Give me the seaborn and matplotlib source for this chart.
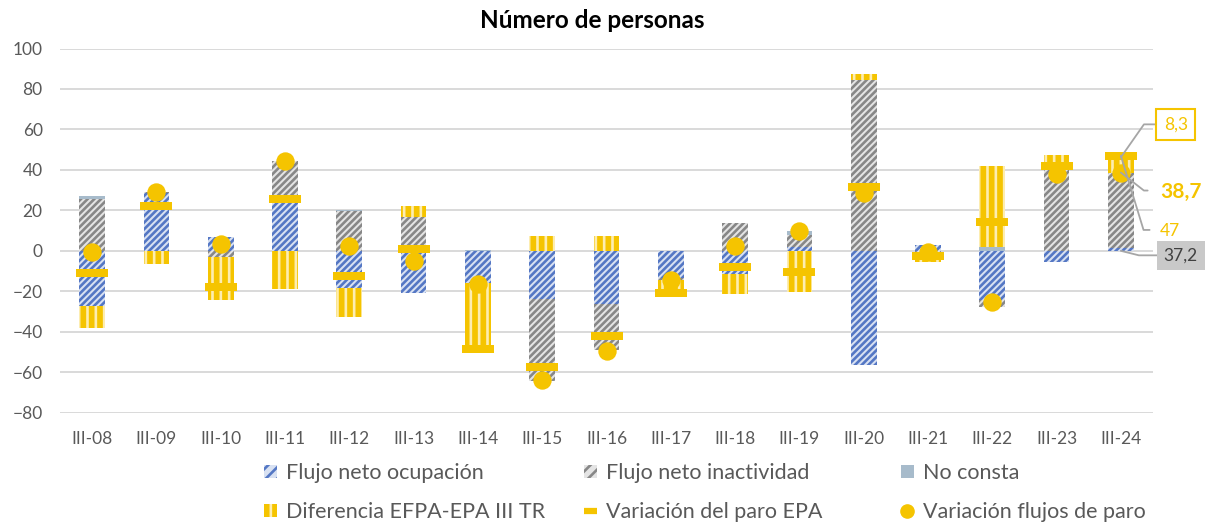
import numpy as np
import pandas as pd
import matplotlib
matplotlib.use("Agg")
import matplotlib.pyplot as plt
import seaborn as sns
from matplotlib.patches import Patch
from matplotlib.lines import Line2D

# ---------------- data ----------------
categories = ["III-08", "III-09", "III-10", "III-11", "III-12", "III-13", "III-14",
              "III-15", "III-16", "III-17", "III-18", "III-19", "III-20", "III-21",
              "III-22", "III-23", "III-24"]
flujo_ocupacion = [-27.4, 28.5, 6.7, 23.5, -18.4, -20.8, -16.0, -23.6, -26.3, -13.5,
                   -11.3, 2.0, -56.2, 3.0, -24.1, -5.3, 1.5]
flujo_inactividad = [25.5, 0.7, -3.1, 21.0, 19.7, 16.9, 0.0, -40.7, -22.5, -0.8,
                     13.6, 6.0, 84.6, -3.8, -3.6, 43.2, 37.2]
no_consta = [1.5, 0.0, 0.0, 0.0, 0.6, 0.0, 0.5, 0.0, 0.0, 0.0,
             0.0, 2.0, 0.0, 0.0, 2.1, 0.0, 0.0]
diferencia_efpa_epa = [-10.7, -6.6, -21.0, -18.9, -14.3, 5.3, -32.1, 7.4, 7.4, -6.5,
                       -10.0, -20.3, 2.9, -1.7, 39.8, 4.4, 8.3]
variacion_paro_epa = [-11.0, 22.2, -17.9, 25.6, -12.2, 0.8, -48.3, -57.3, -41.9, -20.8,
                      -7.9, -10.5, 31.7, -2.5, 14.1, 41.9, 47.0]
variacion_flujos_paro = [-0.8, 29.2, 3.3, 44.5, 2.5, -4.8, -16.3, -63.9, -49.3, -14.3,
                         2.5, 9.9, 28.4, -0.8, -25.5, 37.9, 38.7]
y_ticks = [-80, -60, -40, -20, 0, 20, 40, 60, 80, 100]
series_names = ["Flujo neto ocupación", "Flujo neto inactividad", "No consta",
                "Diferencia EFPA-EPA III TR", "Variación del paro EPA",
                "Variación flujos de paro"]
last_labels = ["8,3", "38,7", "47", "37,2"]

# ---------------- style ----------------
sns.set_theme(style="white")
plt.rcParams["font.family"] = ["Lato", "DejaVu Sans"]
plt.rcParams["hatch.linewidth"] = 1.9

YEL = "#F5C400"
BLUE_BG, BLUE_HATCH = "#D8E1F2", "#5477C4"
GRAY_BG, GRAY_HATCH = "#E4E4E4", "#878787"
NOC = "#A7BBCB"
STRIPE = "#FDEDB0"
TXT = "#595959"
DIAG = "/////"

W, H = 1217, 523
fig = plt.figure(figsize=(W / 100, H / 100), dpi=100)
ax = fig.add_axes([60 / W, 1 - 412.7 / H, (1153 - 60) / W, (412.7 - 48.5) / H])

n = len(categories)
x = np.arange(n)
pos = np.zeros(n)
neg = np.zeros(n)
bar_styles = [
    (flujo_ocupacion, dict(facecolor=BLUE_BG, edgecolor=BLUE_HATCH, hatch=DIAG)),
    (flujo_inactividad, dict(facecolor=GRAY_BG, edgecolor=GRAY_HATCH, hatch=DIAG)),
    (no_consta, dict(facecolor=NOC, edgecolor=NOC)),
    (diferencia_efpa_epa, dict(facecolor=YEL, edgecolor=STRIPE, hatch="||")),
]
for vals, st in bar_styles:
    v = np.asarray(vals, dtype=float)
    bottoms = np.where(v >= 0, pos, neg)
    ax.bar(x, v, width=0.4, bottom=bottoms, linewidth=0, zorder=2, **st)
    pos += np.where(v >= 0, v, 0)
    neg += np.where(v < 0, v, 0)

df = pd.DataFrame({"x": x, "flujos": variacion_flujos_paro, "epa": variacion_paro_epa})
sns.scatterplot(data=df, x="x", y="flujos", ax=ax, s=175, color=YEL,
                linewidth=0, zorder=4, legend=False)
dash_marker = [(-1.9, -0.5), (1.9, -0.5), (1.9, 0.5), (-1.9, 0.5), (-1.9, -0.5)]
sns.scatterplot(data=df, x="x", y="epa", ax=ax, s=540, color=YEL, marker=dash_marker,
                linewidth=0, zorder=5, legend=False)

ax.set_xlim(-0.5, n - 0.5)
ax.set_ylim(-80, 100)
ax.set_yticks(y_ticks)
ax.set_xticks(x)
ax.set_xticklabels(categories)
ax.set_xlabel("")
ax.set_ylabel("")
ax.grid(axis="y", color="#D9D9D9", linewidth=1.4, zorder=0)
ax.set_axisbelow(True)
for s in ax.spines.values():
    s.set_visible(False)
ax.tick_params(axis="y", length=0, pad=12.5, labelsize=12.5, labelcolor=TXT)
ax.tick_params(axis="x", length=0, pad=13.5, labelsize=12.5, labelcolor=TXT)

fig.text(592 / W, 1 - 21 / H, "Número de personas", ha="center", va="center",
         fontsize=17.5, fontweight="bold", color="black")

# ---------------- labels on last category ----------------
i = n - 1
def lead(angleB):
    return dict(arrowstyle="-", color="#A6A6A6", lw=1.3, shrinkA=0, shrinkB=0,
                relpos=(0, 0.5),
                connectionstyle=f"angle,angleA=0,angleB={angleB},rad=0")

top_dif = pos[i]
ax.annotate(last_labels[0], xy=(i, top_dif - 0.8), xytext=(55 * 0.72, 33 * 0.72),
            textcoords="offset points", ha="center", va="center", fontsize=12.5,
            color=YEL,
            bbox=dict(boxstyle="square,pad=0.42", fc="white", ec=YEL, lw=1.5),
            arrowprops=lead(55), zorder=6)
ax.annotate(last_labels[1], xy=(i, variacion_flujos_paro[i]), xytext=(60 * 0.72, -19 * 0.72),
            textcoords="offset points", ha="center", va="center", fontsize=15,
            fontweight="bold", color=YEL, arrowprops=dict(lead(-38), relpos=(-0.3, 0.55)),
            zorder=6)
ax.annotate(last_labels[2], xy=(i, variacion_paro_epa[i]), xytext=(49 * 0.72, -75 * 0.72),
            textcoords="offset points", ha="center", va="center", fontsize=12.5,
            color=YEL, arrowprops=dict(lead(-73), relpos=(-0.5, 0.55)), zorder=6)
ax.annotate(last_labels[3], xy=(i, 0), xytext=(60 * 0.72, -4.5 * 0.72),
            textcoords="offset points", ha="center", va="center", fontsize=12.5,
            color="#404040",
            bbox=dict(boxstyle="square,pad=0.38", fc="#C9C9C9", ec="none"),
            arrowprops=lead(-14), zorder=6)

# ---------------- legend ----------------
handles = [
    Patch(facecolor=BLUE_BG, edgecolor=BLUE_HATCH, hatch="///", linewidth=0),
    Patch(facecolor=GRAY_BG, edgecolor=GRAY_HATCH, hatch="///", linewidth=0),
    Patch(facecolor=NOC, edgecolor=NOC, linewidth=0),
    Patch(facecolor=YEL, edgecolor=STRIPE, hatch="||", linewidth=0),
    Line2D([], [], color=YEL, lw=4.5, solid_capstyle="butt"),
    Line2D([], [], color=YEL, marker="o", markersize=9.5, linestyle="none"),
]
col_x = [264, 584, 901]
row_y = [473, 512]
for k, (h, lab) in enumerate(zip(handles, series_names)):
    r, c = divmod(k, 3)
    fig.legend([h], [lab], loc="center left",
               bbox_to_anchor=(col_x[c] / W, 1 - row_y[r] / H),
               frameon=False, borderpad=0, borderaxespad=0,
               handlelength=0.6, handleheight=0.6,
               handletextpad=0.4, fontsize=15.5, labelcolor=TXT)

fig.savefig("out.png", dpi=100)
